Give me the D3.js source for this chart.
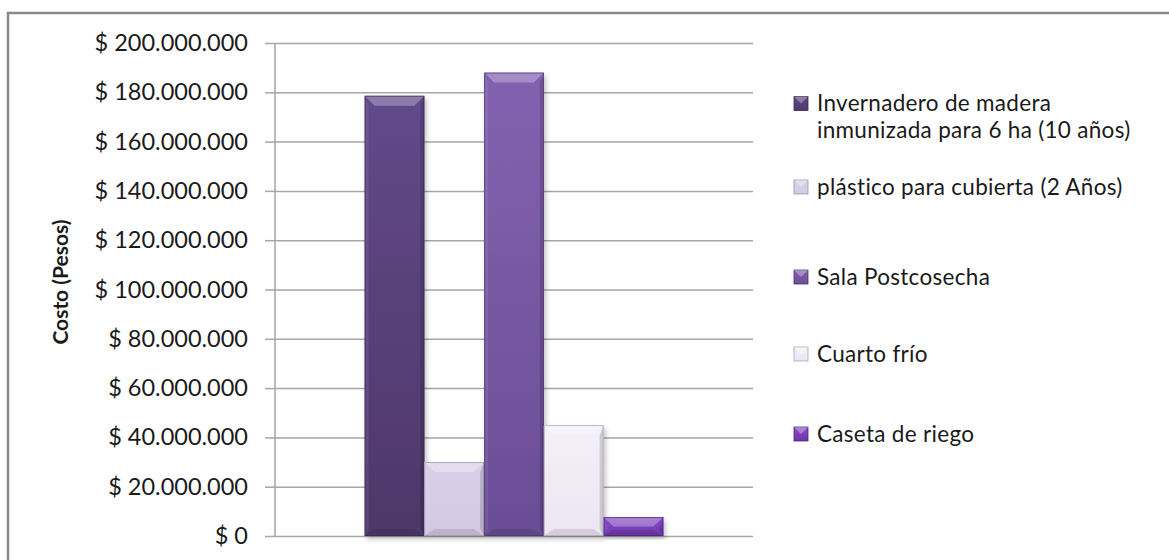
<!DOCTYPE html>
<html>
<head>
<meta charset="utf-8">
<script src="https://cdn.jsdelivr.net/npm/d3@7/dist/d3.min.js"></script>
<style>
  html, body { margin: 0; padding: 0; background: #ffffff; }
  svg { display: block; }
  text { font-family: Lato, "Noto Sans", sans-serif; fill: #1a1a1a; }
</style>
</head>
<body>
<svg id="chart" width="1169" height="560"></svg>
<script>
// Costs of the installations (Colombian pesos)
const series = [
  "Invernadero de madera inmunizada para 6 ha (10 años)",
  "plástico para cubierta (2 Años)",
  "Sala Postcosecha",
  "Cuarto frío",
  "Caseta de riego"
];
const legendLines = [
  ["Invernadero de madera", "inmunizada para 6 ha (10 años)"],
  ["plástico para cubierta (2 Años)"],
  ["Sala Postcosecha"],
  ["Cuarto frío"],
  ["Caseta de riego"]
];
const values = [178600000, 30000000, 188000000, 45000000, 7700000];
const tickValues = [0, 20000000, 40000000, 60000000, 80000000, 100000000,
                    120000000, 140000000, 160000000, 180000000, 200000000];
const yTitle = "Costo (Pesos)";

// Fill colours: [top, bottom] of each bar's face
const faces = [
  ["#62498a", "#4d3768"],
  ["#d9d1e8", "#d2c8e2"],
  ["#8262b0", "#6a4d95"],
  ["#f3f0f8", "#ebe6f2"],
  ["#8a4fc8", "#6e36a8"]
];
const outlines = ["#3b2a55", "#9d93ae", "#4b3670", "#aaa2b6", "#4a2380"];

const svg = d3.select("#chart");
const defs = svg.append("defs");

const shadow = defs.append("filter").attr("id", "shadow")
  .attr("x", "-20%").attr("y", "-20%").attr("width", "140%").attr("height", "140%");
shadow.append("feDropShadow").attr("dx", 2).attr("dy", 3)
  .attr("stdDeviation", 2.5).attr("flood-color", "#000").attr("flood-opacity", 0.25);

faces.forEach((c, i) => {
  const g = defs.append("linearGradient").attr("id", "face" + i)
    .attr("x1", 0).attr("y1", 0).attr("x2", 0).attr("y2", 1);
  g.append("stop").attr("offset", "0%").attr("stop-color", c[0]);
  g.append("stop").attr("offset", "100%").attr("stop-color", c[1]);
});

// Outer frame
svg.append("rect")
  .attr("x", 8).attr("y", 13).attr("width", 1200).attr("height", 600)
  .attr("fill", "#fff").attr("stroke", "#8a8a8a").attr("stroke-width", 2.5);

const plot = { left: 275, right: 753, top: 43, bottom: 536 };

const y = d3.scaleLinear().domain([0, 200000000]).range([plot.bottom, plot.top]);

const group = d3.scaleBand().domain(["g"]).range([plot.left, plot.right])
  .paddingInner(0).paddingOuter(0.3);
const x = d3.scaleBand().domain(series)
  .range([group("g"), group("g") + group.bandwidth()]).padding(0);

const fmt = v => "$ " + d3.format(",")(v).replace(/,/g, ".");

// Gridlines with outward ticks
const yAxis = d3.axisLeft(y).tickValues(tickValues)
  .tickSize(-(plot.right - plot.left)).tickFormat(fmt).tickPadding(27);
const ga = svg.append("g").attr("transform", `translate(${plot.left},0)`).call(yAxis);
ga.select(".domain").remove();
ga.selectAll(".tick line").attr("stroke", "#a6a6a6").attr("stroke-width", 1.5);
ga.selectAll(".tick").append("line")
  .attr("x1", -10).attr("x2", 0).attr("stroke", "#a6a6a6").attr("stroke-width", 1.5);
ga.selectAll(".tick text")
  .style("font-family", "Lato, 'Noto Sans', sans-serif")
  .style("font-size", "23.5px").attr("fill", "#1a1a1a");

// Vertical axis line
svg.append("line")
  .attr("x1", plot.left).attr("x2", plot.left)
  .attr("y1", plot.top).attr("y2", plot.bottom)
  .attr("stroke", "#a6a6a6").attr("stroke-width", 1.5);

// Y title
svg.append("text")
  .attr("transform", `translate(61,282) rotate(-90)`)
  .attr("text-anchor", "middle").attr("dy", "0.35em")
  .style("font-size", "21px").style("font-weight", "bold")
  .text(yTitle);

// Bevelled bars
const bars = svg.append("g").selectAll("g.bar")
  .data(series.map((s, i) => ({ s, v: values[i], i })))
  .join("g").attr("class", "bar");

bars.each(function(d) {
  const g = d3.select(this);
  const x0 = x(d.s), w = x.bandwidth();
  const y0 = y(d.v), h = y(0) - y0;
  const bt = Math.min(10, h / 2), bb = Math.min(7, h / 3), bs = 4;
  g.append("rect").attr("x", x0).attr("y", y0).attr("width", w).attr("height", h)
    .attr("fill", `url(#face${d.i})`).attr("filter", "url(#shadow)");
  // top bevel (light)
  g.append("path")
    .attr("d", `M${x0},${y0}L${x0 + w},${y0}L${x0 + w - 10},${y0 + bt}L${x0 + 10},${y0 + bt}Z`)
    .attr("fill", "#ffffff").attr("opacity", 0.28);
  // left edge (light)
  g.append("path")
    .attr("d", `M${x0},${y0}L${x0 + bs},${y0 + bt}L${x0 + bs},${y0 + h - bb}L${x0},${y0 + h}Z`)
    .attr("fill", "#ffffff").attr("opacity", 0.08);
  // right edge (dark)
  g.append("path")
    .attr("d", `M${x0 + w},${y0}L${x0 + w - bs},${y0 + bt}L${x0 + w - bs},${y0 + h - bb}L${x0 + w},${y0 + h}Z`)
    .attr("fill", "#000000").attr("opacity", 0.14);
  // bottom bevel (dark)
  g.append("path")
    .attr("d", `M${x0},${y0 + h}L${x0 + w},${y0 + h}L${x0 + w - 10},${y0 + h - bb}L${x0 + 10},${y0 + h - bb}Z`)
    .attr("fill", "#000000").attr("opacity", 0.1);
  g.append("rect").attr("x", x0 + 0.5).attr("y", y0 + 0.5)
    .attr("width", w - 1).attr("height", h - 1)
    .attr("fill", "none").attr("stroke", outlines[d.i]).attr("stroke-opacity", 0.7);
});

// Legend
const legendY = [117, 187, 277, 354, 434];
const lineGap = 27;
const legend = svg.append("g");
legendLines.forEach((lines, i) => {
  const cy = legendY[i];
  const top = cy - (lines.length - 1) * lineGap / 2;
  const gi = legend.append("g");
  const s = 14, mx = 794;
  gi.append("rect")
    .attr("x", mx).attr("y", top - s / 2).attr("width", s).attr("height", s)
    .attr("fill", `url(#face${i})`).attr("stroke", outlines[i]).attr("stroke-width", 0.8);
  gi.append("path")
    .attr("d", `M${mx},${top - s / 2}L${mx + s},${top - s / 2}L${mx + s / 2},${top}Z`)
    .attr("fill", "#ffffff").attr("opacity", 0.3);
  lines.forEach((ln, j) => {
    gi.append("text")
      .attr("x", 817).attr("y", top + j * lineGap).attr("dy", "0.35em")
      .style("font-size", "22.5px").style("letter-spacing", "0.3px")
      .text(ln);
  });
});
</script>
</body>
</html>
